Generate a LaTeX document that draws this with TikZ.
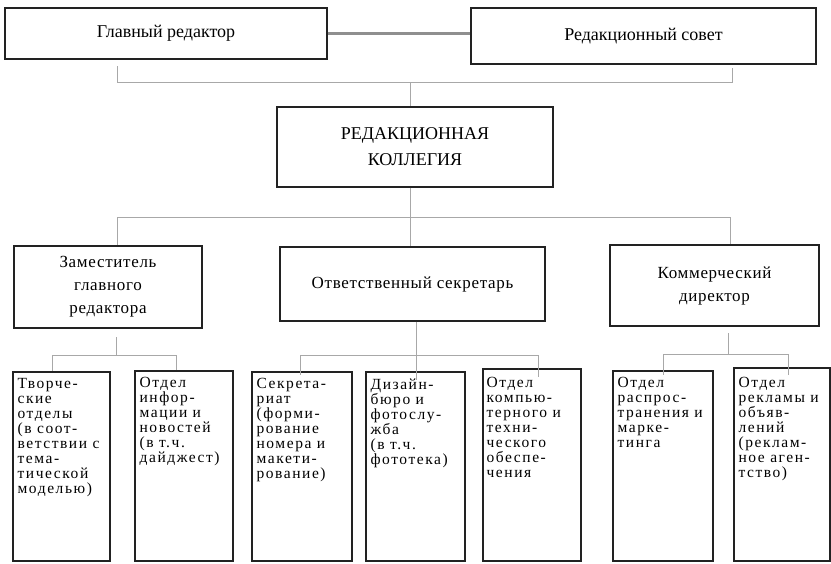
\documentclass[tikz,border=0pt]{standalone}
\usepackage{fontspec}
\setmainfont{Liberation Serif}
\newfontfamily\spfont[LetterSpace=10]{Liberation Serif}
\newfontfamily\midfont[LetterSpace=4]{Liberation Serif}
\definecolor{boxcol}{HTML}{222222}
\definecolor{conncol}{HTML}{A8A8A8}
\tikzset{
  box/.style={draw=boxcol, line width=1.1pt, inner sep=0pt},
  topbox/.style={box, font=\fontsize{18}{26}\selectfont, align=center},
  midbox/.style={box, font=\midfont\fontsize{17}{23}\selectfont, align=center},
  lowtext/.style={anchor=north west, inner sep=0pt, align=left, font=\spfont\fontsize{15.5}{15}\selectfont},
  conn/.style={draw=conncol, line width=1pt},
  thickconn/.style={draw=conncol!85!black, line width=2.8pt}
}
\begin{document}
\begin{tikzpicture}[x=1pt,y=-1pt]
\fill[white] (0,0) rectangle (831,563);
\useasboundingbox (0,0) rectangle (831,563);

% top row
\node[topbox, minimum width=322, minimum height=51] (glav) at (166,33.5) {Главный редактор};
\node[topbox, minimum width=345, minimum height=56] (sovet) at (643.5,36) {Редакционный совет};
\node[topbox, minimum width=276, minimum height=80] (colleg) at (415,147) {РЕДАКЦИОННАЯ\\КОЛЛЕГИЯ};

% middle row
\node[midbox, minimum width=188, minimum height=82] (zam) at (108,287) {Заместитель\\главного\\редактора};
\node[midbox, minimum width=265, minimum height=74] (otv) at (412.5,284) {Ответственный секретарь};
\node[midbox, minimum width=209, minimum height=81] (kom) at (714.5,285.5) {Коммерческий\\директор};

% bottom row boxes
\node[box, minimum width=97, minimum height=189] (b1) at (61.5,466.5) {};
\node[box, minimum width=98, minimum height=190] (b2) at (184,466) {};
\node[box, minimum width=100, minimum height=189] (b3) at (302,466.5) {};
\node[box, minimum width=99, minimum height=189] (b4) at (415.5,466.5) {};
\node[box, minimum width=98, minimum height=192] (b5) at (532,465) {};
\node[box, minimum width=100, minimum height=190] (b6) at (663,466) {};
\node[box, minimum width=96, minimum height=193] (b7) at (782,464.5) {};

\node[lowtext] (t1) at ([shift={(5,7)}]b1.north west) {Творче-\\ские\\отделы\\(в соот-\\ветствии с\\тема-\\тической\\моделью)};
\node[lowtext] (t2) at ([shift={(5,7)}]b2.north west) {Отдел\\инфор-\\мации и\\новостей\\(в т.ч.\\дайджест)};
\node[lowtext] (t3) at ([shift={(5,7)}]b3.north west) {Секрета-\\риат\\(форми-\\рование\\номера и\\макети-\\рование)};
\node[lowtext] (t4) at ([shift={(5,7)}]b4.north west) {Дизайн-\\бюро и\\фотослу-\\жба\\(в т.ч.\\фототека)};
\node[lowtext] (t5) at ([shift={(4,9)}]b5.north west) {Отдел\\компью-\\терного и\\техни-\\ческого\\обеспе-\\чения};
\node[lowtext] (t6) at ([shift={(5,7)}]b6.north west) {Отдел\\распрос-\\транения и\\марке-\\тинга};
\node[lowtext] (t7) at ([shift={(5,10)}]b7.north west) {Отдел\\рекламы и\\объяв-\\лений\\(реклам-\\ное аген-\\тство)};

% connectors: top
\draw[thickconn] (glav.east) -- (glav.east -| sovet.west);
\coordinate (ta) at (117,66);
\coordinate (tb) at (732,68);
\coordinate (tha) at (117,82);
\coordinate (thb) at (732,82);
\coordinate (tc) at (410,82);
\draw[conn] (ta) -- (tha) -- (thb) -- (tb);
\draw[conn] (tc) -- (tc |- colleg.north);

% connectors: middle
\coordinate (ma) at (117,217);
\coordinate (mb) at (730,217);
\coordinate (mc) at (410,217);
\draw[conn] (colleg.south -| mc) -- (mc);
\draw[conn] (ma) -- (mb);
\draw[conn] (ma) -- (ma |- zam.north);
\draw[conn] (mc) -- (mc |- otv.north);
\draw[conn] (mb) -- (mb |- kom.north);

% connectors: under Zam
\coordinate (z0) at (116,337);
\coordinate (za) at (52,355);
\coordinate (zb) at (176,355);
\draw[conn] (z0) -- (z0 |- za);
\draw[conn] (za) -- (zb);
\draw[conn] (za) -- (za |- b1.north);
\draw[conn] (zb) -- (zb |- b2.north);

% connectors: under Otv
\coordinate (oa) at (300,355);
\coordinate (ob) at (538,355);
\coordinate (oc) at (416,355);
\coordinate (oae) at (300,375);
\coordinate (obe) at (538,377);
\coordinate (oce) at (416,380);
\draw[conn] (otv.south -| oc) -- (oce);
\draw[conn] (oa) -- (ob);
\draw[conn] (oa) -- (oae);
\draw[conn] (ob) -- (obe);

% connectors: under Kom
\coordinate (k0) at (728,333);
\coordinate (ka) at (663,354);
\coordinate (kb) at (788,354);
\coordinate (kae) at (663,375);
\coordinate (kbe) at (788,375);
\draw[conn] (k0) -- (k0 |- ka);
\draw[conn] (ka) -- (kb);
\draw[conn] (ka) -- (kae);
\draw[conn] (kb) -- (kbe);
\end{tikzpicture}
\end{document}
